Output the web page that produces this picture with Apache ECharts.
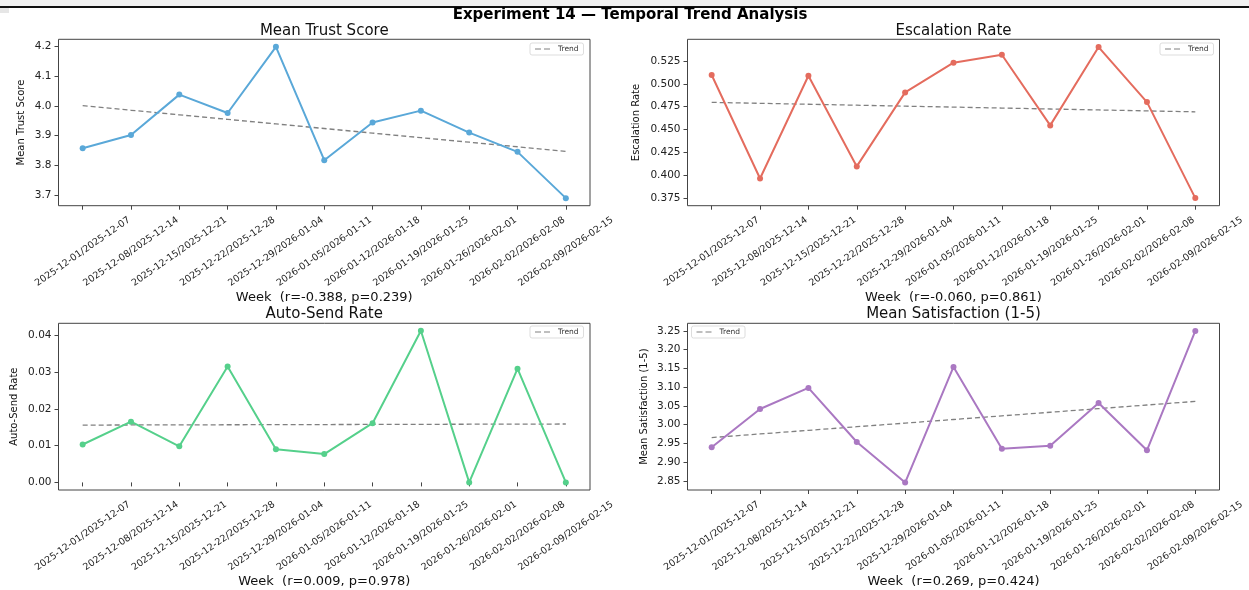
<!DOCTYPE html>
<html>
<head>
<meta charset="utf-8">
<script src="https://cdn.jsdelivr.net/npm/echarts@6/dist/echarts.min.js"></script>
<style>
  html, body { margin: 0; padding: 0; background: #fff; }
  #chart { width: 1249px; height: 590px; }
</style>
</head>
<body>
<div id="chart"></div>
<script>
// Weekly buckets shared by all four panels
const weeks = [
  '2025-12-01/2025-12-07', '2025-12-08/2025-12-14', '2025-12-15/2025-12-21',
  '2025-12-22/2025-12-28', '2025-12-29/2026-01-04', '2026-01-05/2026-01-11',
  '2026-01-12/2026-01-18', '2026-01-19/2026-01-25', '2026-01-26/2026-02-01',
  '2026-02-02/2026-02-08', '2026-02-09/2026-02-15'
];

// Weekly metric values
const trustScore     = [3.857, 3.902, 4.038, 3.976, 4.199, 3.817, 3.944, 3.984, 3.910, 3.845, 3.689];
const escalationRate = [0.5097, 0.3965, 0.5089, 0.4097, 0.4907, 0.5232, 0.5319, 0.4546, 0.5403, 0.4801, 0.3750];
const autoSendRate   = [0.0103, 0.0165, 0.0098, 0.0315, 0.0090, 0.0077, 0.0161, 0.0412, 0.0000, 0.0309, 0.0000];
const satisfaction   = [2.940, 3.042, 3.098, 2.954, 2.846, 3.154, 2.936, 2.944, 3.058, 2.932, 3.250];

// Y tick values per panel
const trustTicks        = [3.7, 3.8, 3.9, 4.0, 4.1, 4.2];
const escalationTicks   = [0.375, 0.400, 0.425, 0.450, 0.475, 0.500, 0.525];
const autoSendTicks     = [0.00, 0.01, 0.02, 0.03, 0.04];
const satisfactionTicks = [2.85, 2.90, 2.95, 3.00, 3.05, 3.10, 3.15, 3.20, 3.25];

// Panel titles, axis names and the correlation summary under each panel
const panelTitles = ['Mean Trust Score', 'Escalation Rate', 'Auto-Send Rate', 'Mean Satisfaction (1-5)'];
const axisNames   = ['Mean Trust Score', 'Escalation Rate', 'Auto-Send Rate', 'Mean Satisfaction (1-5)'];
const statLabels  = [
  'Week  (r=-0.388, p=0.239)', 'Week  (r=-0.060, p=0.861)',
  'Week  (r=0.009, p=0.978)',  'Week  (r=0.269, p=0.424)'
];

// Ordinary least-squares trend over the week index
function linearTrend(values) {
  const n = values.length;
  const xm = (n - 1) / 2;
  const ym = values.reduce((a, b) => a + b, 0) / n;
  let sxy = 0, sxx = 0;
  values.forEach((v, i) => { sxy += (i - xm) * (v - ym); sxx += (i - xm) * (i - xm); });
  const slope = sxy / sxx;
  return values.map((_, i) => ym + slope * (i - xm));
}

const panels = [
  { data: trustScore,     ticks: trustTicks,        dec: 1, min: 3.6635, max: 4.2245, color: '#5aa8d8',
    grid: { left: 58.5, top: 39.3, width: 531.5, height: 166.4 }, titleY: 23.5, nameGap: 32, xNameGap: 82.5,
    legend: { left: 530, top: 43 } },
  { data: escalationRate, ticks: escalationTicks,   dec: 3, min: 0.3667, max: 0.5488, color: '#e46c5e',
    grid: { left: 687.5, top: 39.3, width: 532, height: 166.4 }, titleY: 23.5, nameGap: 46, xNameGap: 82.5,
    legend: { left: 1160, top: 43 } },
  { data: autoSendRate,   ticks: autoSendTicks,     dec: 2, min: -0.00206, max: 0.04324, color: '#55d08b',
    grid: { left: 58.5, top: 323.3, width: 531.5, height: 166.7 }, titleY: 307, nameGap: 39, xNameGap: 81,
    legend: { left: 530, top: 326 } },
  { data: satisfaction,   ticks: satisfactionTicks, dec: 2, min: 2.8262, max: 3.2702, color: '#aa78c2',
    grid: { left: 687.5, top: 323.3, width: 532, height: 166.7 }, titleY: 307, nameGap: 38.5, xNameGap: 81,
    legend: { left: 691.5, top: 326 } }
];

// Two short dashes, used as the legend sample for the dashed trend line
const DASH_ICON = 'path://M0,0H6V1H0Z M9,0H15V1H9Z';

const FONT = 'DejaVu Sans';
const option = {
  backgroundColor: '#ffffff',
  animation: false,
  textStyle: { fontFamily: FONT },
  graphic: [
    { type: 'rect', shape: { x: 0, y: 0, width: 1249, height: 6 }, style: { fill: '#f1f1f1' }, silent: true },
    { type: 'line', shape: { x1: 0, y1: 7, x2: 1249, y2: 7 }, style: { stroke: '#111', lineWidth: 2 }, silent: true },
    { type: 'rect', shape: { x: 0, y: 8, width: 9, height: 5 }, style: { fill: '#e6e6e6' }, silent: true }
  ],
  title: [
    { text: 'Experiment 14 \u2014 Temporal Trend Analysis', left: 630, top: 8, textAlign: 'center', padding: 0,
      textStyle: { fontFamily: FONT, fontWeight: 'bold', fontSize: 15, lineHeight: 15, color: '#000' } }
  ],
  grid: [],
  xAxis: [],
  yAxis: [],
  legend: [],
  series: []
};

panels.forEach((p, i) => {
  const g = p.grid;
  option.title.push({
    text: panelTitles[i], left: g.left + g.width / 2, top: p.titleY, textAlign: 'center', padding: 0,
    textStyle: { fontFamily: FONT, fontWeight: 'normal', fontSize: 15, lineHeight: 15, color: '#111' }
  });
  option.grid.push(Object.assign({ show: true, borderColor: '#444', borderWidth: 1,
    backgroundColor: 'transparent', containLabel: false, outerBoundsMode: 'none' }, g));
  option.xAxis.push({
    type: 'category', gridIndex: i, data: weeks, boundaryGap: true,
    name: statLabels[i], nameLocation: 'middle', nameGap: p.xNameGap,
    nameTextStyle: { fontFamily: FONT, fontSize: 13, color: '#111' },
    axisLine: { show: false },
    axisTick: { show: true, alignWithLabel: true, length: 4, lineStyle: { color: '#444' } },
    axisLabel: { interval: 0, rotate: 35, align: 'center', verticalAlign: 'middle', margin: 46,
      fontFamily: FONT, fontSize: 9.5, color: '#222', hideOverlap: false },
    splitLine: { show: false }
  });
  option.yAxis.push({
    type: 'value', gridIndex: i, min: p.min, max: p.max, scale: true,
    name: axisNames[i], nameLocation: 'middle', nameGap: p.nameGap,
    nameTextStyle: { fontFamily: FONT, fontSize: 10, color: '#111' },
    axisLine: { show: false },
    axisTick: { show: true, length: 4, customValues: p.ticks, lineStyle: { color: '#444' } },
    axisLabel: { customValues: p.ticks, margin: 7, fontFamily: FONT, fontSize: 10.5, color: '#222',
      formatter: v => Number(v).toFixed(p.dec), showMinLabel: true, showMaxLabel: true },
    splitLine: { show: false }
  });
  option.legend.push({
    data: [{ name: 'Trend', icon: DASH_ICON }], left: p.legend.left, top: p.legend.top, orient: 'horizontal',
    padding: [2, 5, 2, 5], itemWidth: 15, itemHeight: 7, itemGap: 4,
    itemStyle: { color: '#808080', borderWidth: 0 },
    backgroundColor: 'rgba(255,255,255,0.85)', borderColor: '#d4d4d4', borderWidth: 0.8, borderRadius: 2,
    textStyle: { fontFamily: FONT, fontSize: 7.5, color: '#333', padding: [0, 0, 0, 3] },
    selectedMode: false
  });
  option.series.push({
    name: panelTitles[i], type: 'line', xAxisIndex: i, yAxisIndex: i, data: p.data,
    symbol: 'circle', symbolSize: 6, showSymbol: true,
    lineStyle: { color: p.color, width: 2, join: 'round', cap: 'round' }, itemStyle: { color: p.color }, z: 3
  });
  option.series.push({
    name: 'Trend', type: 'line', xAxisIndex: i, yAxisIndex: i, data: linearTrend(p.data),
    symbol: 'none', showSymbol: false,
    lineStyle: { color: '#808080', width: 1.3, type: [5, 3] }, itemStyle: { color: '#808080' }, z: 2
  });
});

const chart = echarts.init(document.getElementById('chart'), null, { renderer: 'canvas' });
chart.setOption(option);
</script>
</body>
</html>
